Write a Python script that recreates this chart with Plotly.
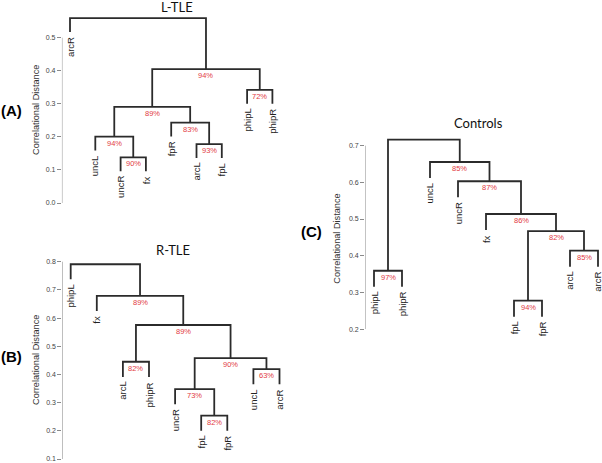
import plotly.graph_objects as go

W, H = 602, 463

# ---------------- data ----------------
# Panel A: L-TLE  (leaves in plotted order; merges R-style: negative = leaf index, positive = earlier merge)
a_leaves = ["arcR", "uncL", "uncR", "fx", "fpR", "arcL", "fpL", "phipL", "phipR"]
a_left = [-3, -6, -2, -5, 3, -8, 5, -1]
a_right = [-4, -7, 1, 2, 4, -9, 6, 7]
a_height = [0.138, 0.178, 0.201, 0.243, 0.291, 0.342, 0.405, 0.559]
a_pct = ["90%", "93%", "94%", "83%", "89%", "72%", "94%", ""]
a_ticks = [0.0, 0.1, 0.2, 0.3, 0.4, 0.5]

# Panel B: R-TLE
b_leaves = ["phipL", "fx", "arcL", "phipR", "uncR", "fpL", "fpR", "uncL", "arcR"]
b_left = [-6, -5, -8, -3, 2, 4, -2, -1]
b_right = [-7, 1, -9, -4, 3, 5, 6, 7]
b_height = [0.254, 0.348, 0.419, 0.445, 0.458, 0.5755, 0.679, 0.791]
b_pct = ["82%", "73%", "63%", "82%", "90%", "89%", "89%", ""]
b_ticks = [0.1, 0.2, 0.3, 0.4, 0.5, 0.6, 0.7, 0.8]

# Panel C: Controls
c_leaves = ["phipL", "phipR", "uncL", "uncR", "fx", "fpL", "fpR", "arcL", "arcR"]
c_left = [-6, -1, -8, 1, -5, -4, -3, 2]
c_right = [-7, -2, -9, 3, 4, 5, 6, 7]
c_height = [0.2773, 0.359, 0.4136, 0.4673, 0.5137, 0.603, 0.6555, 0.7164]
c_pct = ["94%", "97%", "85%", "82%", "86%", "87%", "85%", ""]
c_ticks = [0.2, 0.3, 0.4, 0.5, 0.6, 0.7]

titles = ["L-TLE", "R-TLE", "Controls"]
panel_tags = ["(A)", "(B)", "(C)"]
ytitle = "Correlational Distance"

# ---------------- layout geometry (pixels) ----------------
# first leaf px, leaf spacing px, x range, reference value, its y px, px per unit, y range
geo = [
    dict(fx=70.0, sp=25.3, xr=[0.68, 9.32], yv=0.0, ypx=203.0, ppu=330.6, yr=[-0.03, 0.58],
         title=(176.7, 7.0), tag=(11.0, 110.0), ytit=(36.0, 110.0)),
    dict(fx=70.7, sp=26.1, xr=[0.68, 9.32], yv=0.8, ypx=261.7, ppu=281.9, yr=[0.09, 0.82],
         title=(173.3, 249.7), tag=(11.0, 356.0), ytit=(36.0, 360.0)),
    dict(fx=374.0, sp=28.0, xr=[0.68, 9.14], yv=0.7, ypx=145.7, ppu=366.7, yr=[0.18, 0.74],
         title=(478.3, 123.3), tag=(311.5, 232.0), ytit=(336.7, 239.0)),
]

LINE = "#2b2b2b"
RED = "#e23b3f"
AXIS = "#8a8a8a"


def dendro(n_leaves, left, right, height):
    hang = 0.1 * (max(height) - min(height))
    nodes = {}
    leafend = {}
    sx, sy = [], []
    for k, h in enumerate(height):
        pts = []
        for c in (left[k], right[k]):
            if c < 0:
                x, y0 = float(-c), h - hang
                leafend[-c] = y0
            else:
                x, y0 = nodes[c]
            pts.append((x, y0))
        (xl, yl), (xr, yr) = pts
        sx += [xl, xl, xr, xr, None]
        sy += [yl, h, h, yr, None]
        nodes[k + 1] = ((xl + xr) / 2, h)
    return sx, sy, leafend, nodes


panels = [
    (a_leaves, a_left, a_right, a_height, a_pct, a_ticks),
    (b_leaves, b_left, b_right, b_height, b_pct, b_ticks),
    (c_leaves, c_left, c_right, c_height, c_pct, c_ticks),
]

fig = go.Figure()
annotations = []
shapes = []
layout = dict(width=W, height=H, autosize=False, margin=dict(l=0, r=0, t=0, b=0),
              plot_bgcolor="white", paper_bgcolor="white", showlegend=False)


def ppx(x, y):
    return x / W, 1 - y / H


for i, ((leaves, left, right, height, pct, ticks), g) in enumerate(zip(panels, geo)):
    sfx = "" if i == 0 else str(i + 1)
    xa, ya = "x" + sfx, "y" + sfx
    sx, sy, leafend, nodes = dendro(len(leaves), left, right, height)
    fig.add_trace(go.Scatter(x=sx, y=sy, mode="lines", xaxis=xa, yaxis=ya,
                             line=dict(color=LINE, width=1.8), hoverinfo="skip"))
    # axes domains from geometry
    x0 = g["fx"] - (1 - g["xr"][0]) * g["sp"]
    x1 = g["fx"] + (g["xr"][1] - 1) * g["sp"]
    top = g["ypx"] - (g["yr"][1] - g["yv"]) * g["ppu"]
    bot = g["ypx"] - (g["yr"][0] - g["yv"]) * g["ppu"]
    layout["xaxis" + sfx] = dict(domain=[x0 / W, min(x1 / W, 1)], range=g["xr"], visible=False,
                                 anchor=ya, fixedrange=True)
    layout["yaxis" + sfx] = dict(domain=[max(1 - bot / H, 0), 1 - top / H], range=g["yr"], anchor=xa,
                                 tickvals=ticks, ticktext=["%.1f" % t for t in ticks],
                                 ticks="outside", ticklen=4, tickcolor=AXIS, tickwidth=1,
                                 showgrid=False, zeroline=False, showline=False,
                                 tickfont=dict(family="Liberation Sans", size=7, color="#444"))
    shapes.append(dict(type="line", xref=xa, yref=ya, x0=g["xr"][0], x1=g["xr"][0],
                       y0=min(ticks), y1=max(ticks), line=dict(color=AXIS, width=1)))
    # leaf labels
    for j, name in enumerate(leaves):
        annotations.append(dict(x=j + 1, y=leafend[j + 1], xref=xa, yref=ya, text=name,
                                textangle=-90, showarrow=False, xanchor="center", yanchor="top",
                                yshift=-3, font=dict(family="Liberation Sans", size=9.5, color="#222")))
    # percentages
    for k, p in enumerate(pct):
        if p:
            nx, nh = nodes[k + 1]
            annotations.append(dict(x=nx, y=nh, xref=xa, yref=ya, text=p, showarrow=False,
                                    xanchor="center", yanchor="top", yshift=0,
                                    font=dict(family="Liberation Sans", size=7.5, color=RED)))
    # title
    tx, ty = ppx(*g["title"])
    annotations.append(dict(x=tx, y=ty, xref="paper", yref="paper", text=titles[i], showarrow=False,
                            xanchor="center", yanchor="middle",
                            font=dict(family="Lato", size=13, color="#111")))
    # panel tag
    tx, ty = ppx(*g["tag"])
    annotations.append(dict(x=tx, y=ty, xref="paper", yref="paper", text="<b>%s</b>" % panel_tags[i],
                            showarrow=False, xanchor="center", yanchor="middle",
                            font=dict(family="Liberation Sans", size=15, color="#000")))
    # y title
    tx, ty = ppx(*g["ytit"])
    annotations.append(dict(x=tx, y=ty, xref="paper", yref="paper", text=ytitle, textangle=-90,
                            showarrow=False, xanchor="center", yanchor="middle",
                            font=dict(family="Liberation Sans", size=9.2, color="#333")))

layout["annotations"] = annotations
layout["shapes"] = shapes
fig.update_layout(**layout)
fig.write_html("out.html", config={"displayModeBar": False},
               post_script="document.body.style.margin='0px';document.body.style.overflow='hidden';")
